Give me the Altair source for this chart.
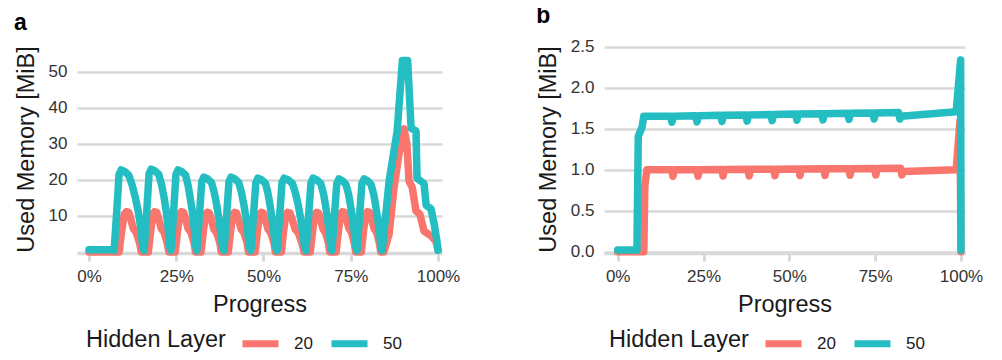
import altair as alt
import pandas as pd

FONT = "Liberation Sans"
LAYERS = ["20", "50"]
COLORS = ["#F8766D", "#23BDC2"]

# ---------------- panel a ----------------
a50_x = [0, 6.9,
         7.2, 8.0, 8.6, 9.2, 10.3, 11.4, 12.4, 13.3, 14.1, 14.9, 15.4,
         15.8, 16.6, 17.2, 17.8, 18.9, 20.0, 20.8, 21.5, 22.1, 22.7, 23.1,
         23.5, 24.3, 24.9, 25.5, 26.6, 27.7, 28.4, 29.0, 29.6, 30.2, 30.6,
         30.9, 31.7, 32.3, 32.9, 34.0, 35.1, 35.9, 36.6, 37.2, 37.9, 38.3,
         38.7, 39.5, 40.1, 40.7, 41.8, 42.9, 43.7, 44.4, 45.0, 45.6, 46.0,
         46.4, 47.2, 47.8, 48.4, 49.5, 50.6, 51.3, 51.9, 52.5, 53.1, 53.5,
         53.9, 54.7, 55.3, 55.9, 57.1, 58.3, 59.2, 60.0, 60.7, 61.4, 61.8,
         62.2, 63.0, 63.6, 64.2, 65.3, 66.4, 67.2, 67.8, 68.4, 69.0, 69.3,
         69.6, 70.4, 71.0, 71.6, 72.6, 73.6, 74.4, 75.0, 75.6, 76.2, 76.5,
         76.8, 77.6, 78.2, 78.8, 79.8, 80.8, 81.6, 82.2, 82.8, 83.4, 83.7,
         84.0, 86.0, 88.3, 89.8, 91.3, 92.3, 93.7, 94.0, 96.0, 96.6, 98.0, 98.9, 99.7, 100]
a50_y = [0.6, 0.6,
         0.5, 12, 21.5, 22.8, 22.3, 21.3, 18.5, 15, 11.3, 6.3, 1.5,
         0.4, 12, 21.7, 23.0, 22.5, 21.5, 18.7, 15.2, 11.5, 6.5, 1.5,
         0.4, 12, 21.5, 22.8, 22.3, 21.3, 18.5, 15, 11.3, 6.3, 1.5,
         0.4, 11, 19.5, 20.8, 20.3, 19.3, 16.5, 13, 9.3, 4.3, 1.2,
         0.4, 11, 19.5, 20.8, 20.3, 19.3, 16.5, 13, 9.3, 4.3, 1.2,
         0.4, 11, 19.2, 20.5, 20, 19, 16.2, 12.8, 9, 4.2, 1.2,
         0.4, 11, 19.2, 20.5, 20, 19, 16.2, 12.8, 9, 4.2, 1.2,
         0.4, 11, 19.2, 20.5, 20, 19, 16.2, 12.8, 9, 4.2, 1.2,
         0.4, 11, 19, 20.3, 19.8, 18.8, 16, 12.5, 8.8, 4, 1.2,
         0.4, 11, 19, 20.3, 19.8, 18.8, 16, 12.5, 8.8, 4, 1.2,
         0.4, 19.7, 33.6, 53.2, 53.2, 34.4, 33.6, 20.5, 19, 13, 12, 7.8, 3, 0.5]

a20_x = [0, 8.6, 9.4, 10.1, 10.7, 11.4, 12.0, 12.7, 13.5, 14.5, 15.0,
         17.0, 17.7, 18.3, 18.8, 19.4, 20.0, 20.7, 21.5, 22.4, 22.9,
         24.7, 25.4, 26.0, 26.5, 27.1, 27.7, 28.4, 29.2, 30.1, 30.5,
         32.1, 32.8, 33.4, 33.9, 34.5, 35.1, 35.8, 36.6, 37.5, 37.9,
         39.9, 40.6, 41.2, 41.7, 42.3, 42.9, 43.6, 44.4, 45.3, 45.7,
         47.6, 48.3, 48.9, 49.4, 50.0, 50.6, 51.3, 52.1, 53.0, 53.4,
         55.1, 55.8, 56.4, 56.9, 57.6, 58.3, 59.1, 60.0, 61.0, 61.6,
         63.4, 64.1, 64.7, 65.2, 65.8, 66.4, 67.1, 67.8, 68.6, 69.0,
         70.8, 71.5, 72.1, 72.6, 73.2, 73.8, 74.5, 75.2, 76.0, 76.4,
         78.0, 78.7, 79.3, 79.8, 80.4, 81.0, 81.7, 82.4, 83.2, 83.6,
         84.5, 86.0, 87.4, 88.8, 90.3, 91.1, 91.7, 92.6, 93.7, 94.8, 96.0, 98.0, 99.4, 100]
a20_y = [0, 0, 6, 10.5, 11.2, 11, 9, 6.5, 5.5, 2.5, 0,
         0, 6, 10.5, 11.2, 11, 9, 6.5, 5.5, 2.5, 0,
         0, 6, 10.5, 11.2, 11, 9, 6.5, 5.5, 2.5, 0,
         0, 6, 10.5, 11, 10.8, 8.8, 6.3, 5.3, 2.5, 0,
         0, 6, 10.5, 11, 10.8, 8.8, 6.3, 5.3, 2.5, 0,
         0, 6, 10.5, 11, 10.8, 8.8, 6.3, 5.3, 2.5, 0,
         0, 6, 10.5, 11, 10.8, 8.8, 6.3, 5.3, 2.5, 0,
         0, 6, 10.5, 11, 10.8, 8.8, 6.3, 5.3, 2.5, 0,
         0, 6, 10.5, 11.2, 11, 9, 6.5, 5.5, 2.5, 0,
         0, 6, 10.5, 11.2, 11, 9, 6.5, 5.5, 2.5, 0,
         0, 5, 17.8, 27, 34.2, 30, 19.7, 18, 11.4, 10.5, 5.8, 4.5, 3, 0.5]

# ---------------- panel b ----------------
b50_x = [0, 5.6, 6.0, 7.1, 7.6,
         15.4, 15.8, 16.2,
         22.7, 23.1, 23.5,
         30.0, 30.4, 30.8,
         37.3, 37.7, 38.1,
         44.6, 45.0, 45.4,
         51.8, 52.2, 52.6,
         59.4, 59.8, 60.2,
         67.0, 67.4, 67.8,
         74.3, 74.7, 75.1,
         81.8, 82.2, 82.6,
         98.6, 99.9, 100]
b50_y = [0.02, 0.02, 1.41, 1.52, 1.655,
         1.655, 1.58, 1.655,
         1.66, 1.585, 1.66,
         1.665, 1.59, 1.665,
         1.67, 1.595, 1.67,
         1.675, 1.60, 1.675,
         1.68, 1.605, 1.68,
         1.685, 1.61, 1.685,
         1.69, 1.615, 1.69,
         1.695, 1.62, 1.695,
         1.70, 1.62, 1.655,
         1.71, 2.34, 0.02]

b20_x = [0, 7.6, 7.9, 8.5,
         15.7, 16.1, 16.5,
         23.0, 23.4, 23.8,
         30.3, 30.7, 31.1,
         37.9, 38.3, 38.7,
         45.4, 45.8, 46.2,
         52.7, 53.1, 53.5,
         60.0, 60.4, 60.8,
         67.3, 67.7, 68.1,
         74.8, 75.2, 75.6,
         82.4, 82.8, 83.2,
         98.6, 99.7, 100]
b20_y = [0, 0, 0.8, 1.0,
         1.0, 0.92, 1.0,
         1.002, 0.922, 1.002,
         1.004, 0.924, 1.004,
         1.006, 0.926, 1.006,
         1.008, 0.928, 1.008,
         1.01, 0.93, 1.01,
         1.012, 0.932, 1.012,
         1.014, 0.934, 1.014,
         1.016, 0.936, 1.016,
         1.018, 0.938, 0.98,
         1.0, 1.6, 0]

x_ticks = [0, 25, 50, 75, 100]
a_y_ticks = [10, 20, 30, 40, 50]
b_y_ticks = [0.0, 0.5, 1.0, 1.5, 2.0, 2.5]


def table(x20, y20, x50, y50):
    return pd.concat([
        pd.DataFrame({"progress": x20, "memory": y20, "layer": "20"}),
        pd.DataFrame({"progress": x50, "memory": y50, "layer": "50"}),
    ], ignore_index=True)


def panel(df, letter, xdom, ydom, yticks, yfmt, width, legend_x):
    return alt.Chart(df, title=alt.Title(letter, anchor="start", frame="bounds",
                                         fontSize=23, fontWeight="bold", font=FONT,
                                         color="#000000", offset=10)).mark_line(
        strokeWidth=7.5, strokeCap="round", strokeJoin="round"
    ).encode(
        x=alt.X("progress:Q",
                scale=alt.Scale(domain=xdom, nice=False, zero=False),
                axis=alt.Axis(values=x_ticks, labelExpr="datum.value + '%'",
                              title="Progress", grid=False, ticks=True,
                              tickSize=8, tickWidth=3, tickColor="#D9D9D9",
                              domain=True, domainColor="#D9D9D9", domainWidth=3.5,
                              labelPadding=7, titlePadding=8)),
        y=alt.Y("memory:Q",
                scale=alt.Scale(domain=ydom, nice=False, zero=False),
                axis=alt.Axis(values=yticks, format=yfmt, title="Used Memory [MiB]",
                              grid=True, gridColor="#D9D9D9", gridWidth=2.5,
                              ticks=False, domain=False, labelPadding=10,
                              titlePadding=10)),
        color=alt.Color("layer:N",
                        scale=alt.Scale(domain=LAYERS, range=COLORS),
                        legend=alt.Legend(title="Hidden Layer", orient="none",
                                          legendX=legend_x, legendY=277,
                                          direction="horizontal", titleOrient="left",
                                          symbolType="stroke", symbolStrokeWidth=7,
                                          symbolSize=1296, labelOffset=12,
                                          columnPadding=4, titlePadding=13,
                                          titleFontSize=23.5, titleFontWeight="normal",
                                          labelFontSize=17, titleColor="#1A1A1A",
                                          labelColor="#1A1A1A", titleFont=FONT,
                                          labelFont=FONT, titleBaseline="middle")),
    ).properties(width=width, height=208)


pa = panel(table(a20_x, a20_y, a50_x, a50_y), "a", [-3.44, 101.15], [-0.28, 57.5],
           a_y_ticks, "d", 365, 9)
pb = panel(table(b20_x, b20_y, b50_x, b50_y), "b", [-3.99, 101.17], [-0.016, 2.524],
           b_y_ticks, ".1f", 361, 5)

chart = alt.hconcat(pa, pb, spacing=76).resolve_scale(color="independent").properties(
    padding={"left": 6, "top": -4, "right": 4, "bottom": 0}
).configure_view(stroke=None).configure_axis(
    labelFont=FONT, titleFont=FONT, labelFontSize=17, titleFontSize=23.5,
    titleFontWeight="normal", labelColor="#333333", titleColor="#1A1A1A"
)

chart.save("out.html", embed_options={"renderer": "svg", "actions": False})
